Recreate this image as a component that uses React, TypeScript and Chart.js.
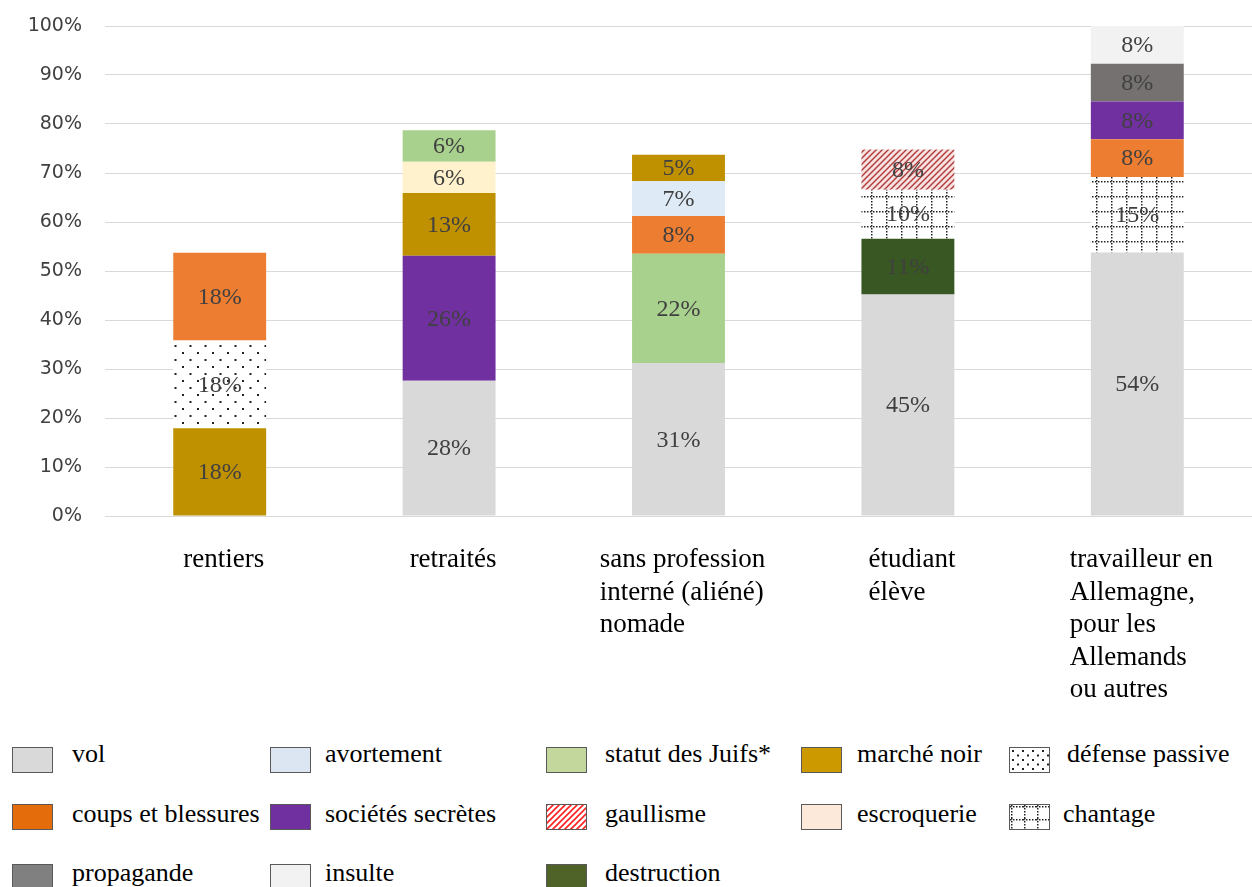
import React, { useEffect, useRef, useMemo } from "react";
import { Chart, registerables } from "chart.js";

Chart.register(...registerables);

// ---------- DATA ----------
const categories: string[][] = [
  ["rentiers"],
  ["retraités"],
  ["sans profession", "interné (aliéné)", "nomade"],
  ["étudiant", "élève"],
  ["travailleur en", "Allemagne,", "pour les", "Allemands", "ou autres"],
];

const legendOrder: string[] = [
  "vol", "avortement", "statut des Juifs*", "marché noir", "défense passive",
  "coups et blessures", "sociétés secrètes", "gaullisme", "escroquerie", "chantage",
  "propagande", "insulte", "destruction",
];

// segments of each bar, bottom to top (values in %)
const rentiersSeries = ["marché noir", "défense passive", "coups et blessures"];
const rentiersValues = [17.9, 17.9, 17.9];

const retraitesSeries = ["vol", "sociétés secrètes", "marché noir", "escroquerie", "statut des Juifs*"];
const retraitesValues = [27.6, 25.5, 12.8, 6.4, 6.4];

const sansProfessionSeries = ["vol", "statut des Juifs*", "coups et blessures", "avortement", "marché noir"];
const sansProfessionValues = [31.2, 22.3, 7.7, 7.1, 5.4];

const etudiantSeries = ["vol", "destruction", "chantage", "gaullisme"];
const etudiantValues = [45.2, 11.4, 10.0, 8.2];

const travailleurSeries = ["vol", "chantage", "coups et blessures", "sociétés secrètes", "propagande", "insulte"];
const travailleurValues = [53.8, 15.4, 7.7, 7.7, 7.7, 7.7];

const yTickValues = [0, 10, 20, 30, 40, 50, 60, 70, 80, 90, 100];

// ---------- STYLES ----------
const barColors: Record<string, string> = {
  "vol": "#d9d9d9",
  "avortement": "#deebf7",
  "statut des Juifs*": "#a9d18e",
  "marché noir": "#bf9000",
  "coups et blessures": "#ed7d31",
  "sociétés secrètes": "#7030a0",
  "escroquerie": "#fff2cc",
  "propagande": "#767171",
  "insulte": "#f2f2f2",
  "destruction": "#385723",
};

const legendColors: Record<string, string> = {
  "vol": "#d9d9d9",
  "avortement": "#dce6f2",
  "statut des Juifs*": "#c3d69b",
  "marché noir": "#cc9900",
  "coups et blessures": "#e46c0a",
  "sociétés secrètes": "#7030a0",
  "escroquerie": "#fde9d9",
  "propagande": "#808080",
  "insulte": "#f2f2f2",
  "destruction": "#4f6228",
};

function makeCanvas(w: number, h: number) {
  const c = document.createElement("canvas");
  c.width = w;
  c.height = h;
  return c;
}

function dotsCanvas(sx: number, sy: number) {
  const c = makeCanvas(sx, sy * 2);
  const g = c.getContext("2d")!;
  g.fillStyle = "#ffffff";
  g.fillRect(0, 0, c.width, c.height);
  g.fillStyle = "#222";
  g.fillRect(2, 2, 2, 2);
  g.fillRect(2 + sx / 2, 2 + sy, 2, 2);
  return c;
}

function gridCanvas(s: number, dot: string) {
  const c = makeCanvas(s, s);
  const g = c.getContext("2d")!;
  g.fillStyle = "#ffffff";
  g.fillRect(0, 0, s, s);
  g.fillStyle = dot;
  for (let i = 0; i < s; i += 3) {
    g.fillRect(i, 1, 1.5, 1.5);
    g.fillRect(1, i, 1.5, 1.5);
  }
  return c;
}

function hatchCanvas(s: number, bg: string, line: string, lw: number) {
  const c = makeCanvas(s, s);
  const g = c.getContext("2d")!;
  g.fillStyle = bg;
  g.fillRect(0, 0, s, s);
  g.strokeStyle = line;
  g.lineWidth = lw;
  g.beginPath();
  g.moveTo(-1, s + 1);
  g.lineTo(s + 1, -1);
  g.moveTo(-1, 1);
  g.lineTo(1, -1);
  g.moveTo(s - 1, s + 1);
  g.lineTo(s + 1, s - 1);
  g.stroke();
  return c;
}

const stacks = [
  { series: rentiersSeries, values: rentiersValues },
  { series: retraitesSeries, values: retraitesValues },
  { series: sansProfessionSeries, values: sansProfessionValues },
  { series: etudiantSeries, values: etudiantValues },
  { series: travailleurSeries, values: travailleurValues },
];

const segLabelPlugin = {
  id: "segLabels",
  afterDatasetsDraw(chart: any) {
    const ctx = chart.ctx;
    ctx.save();
    ctx.font = "24px 'Liberation Serif', 'Times New Roman', serif";
    ctx.fillStyle = "#404040";
    ctx.textAlign = "center";
    ctx.textBaseline = "middle";
    chart.data.datasets.forEach((ds: any, i: number) => {
      const meta = chart.getDatasetMeta(i);
      meta.data.forEach((el: any, j: number) => {
        const v = ds.data[j];
        if (v == null) return;
        const p = el.getProps(["x", "y", "base"], true);
        ctx.fillText(Math.round(v) + "%", p.x, (p.y + p.base) / 2 + 1);
      });
    });
    ctx.restore();
  },
};

const xLabelPlugin = {
  id: "xLabels",
  afterDraw(chart: any) {
    const ctx = chart.ctx;
    const xs = chart.scales.x;
    ctx.save();
    ctx.font = "27px 'Liberation Serif', 'Times New Roman', serif";
    ctx.fillStyle = "#000000";
    ctx.textAlign = "left";
    ctx.textBaseline = "alphabetic";
    categories.forEach((lines, i) => {
      const cx = xs.getPixelForValue(i);
      const w = Math.max(...lines.map((l) => ctx.measureText(l).width));
      lines.forEach((l, k) => {
        ctx.fillText(l, cx - w / 2 + 4, chart.chartArea.bottom + 51 + k * 32.6);
      });
    });
    ctx.restore();
  },
};

export default function App() {
  const ref = useRef<HTMLCanvasElement | null>(null);

  const pats = useMemo(() => {
    return {
      dotsBar: dotsCanvas(15, 7),
      dotsLegend: dotsCanvas(10, 4.5),
      gridBar: gridCanvas(15, "#222"),
      gridLegend: gridCanvas(13, "#222"),
      hatchBar: hatchCanvas(6, "#f7e1e1", "#b03a3a", 1.4),
      hatchLegend: hatchCanvas(6, "#ffffff", "#ff2020", 1.6),
    };
  }, []);

  useEffect(() => {
    const canvas = ref.current!;
    const ctx = canvas.getContext("2d")!;
    const fills: Record<string, any> = {
      ...barColors,
      "défense passive": ctx.createPattern(pats.dotsBar, "repeat"),
      "chantage": ctx.createPattern(pats.gridBar, "repeat"),
      "gaullisme": ctx.createPattern(pats.hatchBar, "repeat"),
    };
    const datasets: any[] = [];
    stacks.forEach((st, ci) => {
      st.series.forEach((name, k) => {
        datasets.push({
          label: name,
          data: categories.map((_, j) => (j === ci ? st.values[k] : null)),
          backgroundColor: fills[name],
          borderWidth: 0,
          barPercentage: 0.405,
          categoryPercentage: 1,
          stack: "s",
        });
      });
    });
    const chart = new Chart(canvas, {
      type: "bar",
      data: { labels: categories.map((c) => c.join(" ")), datasets },
      options: {
        animation: false,
        responsive: false,
        layout: { padding: { top: 26, bottom: 720 - 516, left: 0, right: 0 } },
        plugins: { legend: { display: false }, tooltip: { enabled: false } },
        scales: {
          x: { stacked: true, display: false },
          y: {
            stacked: true,
            min: 0,
            max: 100,
            afterFit: (s: any) => {
              s.width = 105;
              s.paddingTop = 0;
              s.paddingBottom = 0;
            },
            afterBuildTicks: (s: any) => {
              s.ticks = yTickValues.map((v) => ({ value: v }));
            },
            border: { display: false },
            grid: { color: "#d9d9d9", lineWidth: 1, drawTicks: false },
            ticks: {
              padding: 23,
              color: "#404040",
              font: { family: "'DejaVu Sans', sans-serif", size: 19 },
              callback: (v: any) => v + "%",
            },
          },
        },
      },
      plugins: [segLabelPlugin, xLabelPlugin],
    });
    return () => chart.destroy();
  }, [pats]);

  const colX = [12, 270, 546, 801, 1009];
  const textX = [72, 325, 605, 857, 1067];
  const swTop = [747, 804, 864];
  const txTop = [739, 799, 858];

  const swatchStyle = (name: string): React.CSSProperties => {
    const base: React.CSSProperties = {
      position: "absolute",
      width: 41,
      height: 26,
      boxSizing: "border-box",
      border: "1px solid #595959",
    };
    if (name === "défense passive") return { ...base, backgroundImage: `url(${pats.dotsLegend.toDataURL()})` };
    if (name === "chantage") return { ...base, backgroundImage: `url(${pats.gridLegend.toDataURL()})` };
    if (name === "gaullisme") return { ...base, backgroundImage: `url(${pats.hatchLegend.toDataURL()})` };
    return { ...base, background: legendColors[name] };
  };

  return (
    <div style={{ position: "absolute", left: 0, top: 0, width: 1252, height: 887, background: "#fff", overflow: "hidden" }}>
      <canvas ref={ref} width={1252} height={720} style={{ position: "absolute", left: 0, top: 0 }} />
      {legendOrder.map((name, i) => {
        const r = Math.floor(i / 5);
        const c = i % 5;
        return (
          <React.Fragment key={name}>
            <div style={{ ...swatchStyle(name), left: colX[c], top: swTop[r] }} />
            <div
              style={{
                position: "absolute",
                left: name === "chantage" ? 1063 : textX[c],
                top: txTop[r],
                fontFamily: "'Liberation Serif', 'Times New Roman', serif",
                fontSize: 26,
                lineHeight: "30px",
                color: "#000",
                whiteSpace: "nowrap",
              }}
            >
              {name}
            </div>
          </React.Fragment>
        );
      })}
    </div>
  );
}
